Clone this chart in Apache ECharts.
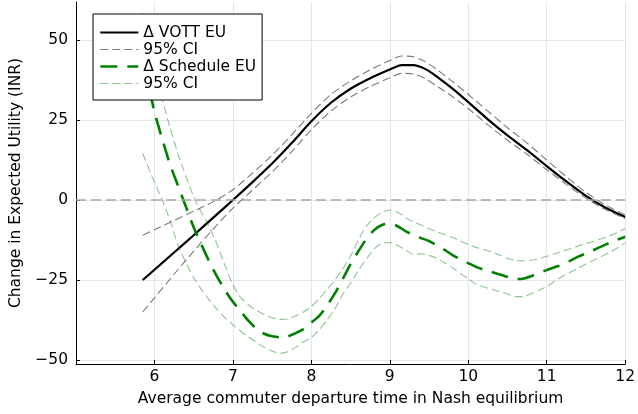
<!DOCTYPE html>
<html>
<head>
<meta charset="utf-8">
<script src="https://cdn.jsdelivr.net/npm/echarts@6/dist/echarts.min.js"></script>
<style>html,body{margin:0;padding:0;background:#fff}#c{width:638px;height:414px}</style>
</head>
<body>
<div id="c"></div>
<script>
// ---- data ----
var xTicks = [6, 7, 8, 9, 10, 11, 12];
var yTicks = [-50, -25, 0, 25, 50];

var xV = [5.85, 6.0, 6.25, 6.5, 6.75, 7.0, 7.25, 7.5, 7.75, 8.0, 8.25, 8.5, 8.75, 9.0, 9.15, 9.3, 9.45, 9.6, 9.8, 10.0, 10.25, 10.5, 10.75, 11.0, 11.25, 11.5, 11.75, 12.0];
var vott   = [-25, -21.8, -16.4, -11, -5.5, 0, 5.6, 11.4, 17.8, 24.6, 30.4, 34.8, 38.1, 40.8, 42.2, 42.2, 41, 38.6, 34.8, 30.6, 25.2, 20.2, 15.6, 10.6, 5.8, 1.3, -2.4, -5.3];
var vottHi = [-11, -9.3, -6.4, -3.5, -0.5, 3.2, 8.4, 14, 20.4, 27.1, 33, 37.2, 40.7, 43.6, 45, 44.8, 43.3, 40.8, 37, 33, 27.8, 22.6, 17.8, 12.5, 7.3, 2.4, -1.6, -4.7];
var vottLo = [-35, -30.6, -23.2, -16, -9, -2.5, 3.1, 8.8, 15.1, 22, 27.8, 32.2, 35.5, 38.2, 39.6, 39.4, 38, 35.6, 32.3, 28.6, 23.5, 18.7, 14.3, 9.5, 4.9, 0.6, -3, -5.8];

var xG = [5.85, 5.95, 6.0, 6.1, 6.2, 6.3, 6.4, 6.5, 6.6, 6.7, 6.8, 6.9, 7.0, 7.1, 7.2, 7.3, 7.4, 7.5, 7.6, 7.7, 7.8, 7.9, 8.0, 8.1, 8.2, 8.3, 8.4, 8.5, 8.6, 8.7, 8.8, 8.9, 9.0, 9.1, 9.2, 9.3, 9.4, 9.5, 9.6, 9.7, 9.8, 9.9, 10.0, 10.1, 10.2, 10.3, 10.4, 10.5, 10.6, 10.7, 10.8, 10.9, 11.0, 11.1, 11.2, 11.3, 11.4, 11.5, 11.6, 11.7, 11.8, 11.9, 12.0];
var sched = [42, 33, 27.5, 19, 11, 4.5, -2, -8.5, -14, -19.3, -24, -28.2, -31.8, -34.8, -37.8, -40.2, -41.8, -42.6, -42.9, -42.6, -41.6, -40.3, -38.3, -36.2, -33, -29.2, -24.7, -20, -16, -12.2, -9.4, -7.8, -7.3, -8.2, -9.7, -10.9, -11.9, -12.8, -14.2, -15.6, -17.2, -18.5, -19.7, -20.9, -21.8, -22.5, -23.3, -24.0, -24.7, -24.6, -23.8, -22.8, -21.9, -21.0, -20.2, -19.0, -17.7, -16.7, -15.6, -14.5, -13.4, -12.4, -11.5];
var schedHi = [58.5, 46, 40.5, 31.3, 22.5, 14.5, 7.5, 1, -4, -8.5, -14, -20.5, -26.5, -30.5, -32.8, -34.5, -35.8, -36.8, -37.3, -37.2, -36.2, -35, -33.3, -30.8, -28, -25, -21.5, -17.5, -12.5, -8.2, -5.6, -3.8, -3.1, -3.8, -5.5, -6.8, -7.9, -9.0, -9.9, -10.8, -11.7, -12.8, -13.9, -14.8, -15.5, -16.2, -17.2, -18.2, -18.9, -19.0, -18.8, -18.3, -17.6, -16.8, -16.0, -15.2, -14.4, -13.6, -12.9, -12.1, -11.2, -10.2, -8.9];
var schedLo = [14.6, 8.5, 5.5, 0, -6.5, -14, -19.5, -24.2, -28, -31.3, -34.2, -36.8, -39, -41, -42.8, -44.5, -46, -47.2, -47.9, -47.4, -46, -44.3, -43, -40.5, -37.5, -34, -29.5, -26, -22, -18.5, -15.3, -13.5, -13.3, -14.2, -15.6, -17.0, -16.8, -17.3, -18.2, -19.6, -21.2, -23.0, -24.6, -26.3, -27.2, -27.9, -28.6, -29.4, -30.2, -30.2, -29.3, -28.2, -27.0, -25.4, -23.9, -22.6, -21.3, -20.0, -18.8, -17.6, -16.4, -15.0, -13.4];

var labelVott = '\u0394 VOTT EU';
var labelCI1 = '95% CI';
var labelSched = '\u0394 Schedule EU';
var labelCI2 = '95% CI ';

function pairs(xs, ys) { return xs.map(function (x, i) { return [x, ys[i]]; }); }

var FONT = 'DejaVu Sans';
var FS = 15.5;
var grayC = '#7a7a7a';
var lgreen = 'rgba(0,128,0,0.45)';

function line(name, xs, ys, color, width, dash) {
  return {
    type: 'line', name: name, data: pairs(xs, ys), showSymbol: false, symbol: 'none',
    smooth: 0.25, z: 2,
    lineStyle: { color: color, width: width, type: dash, cap: 'butt' },
    itemStyle: { color: color },
    emphasis: { disabled: true }, animation: false
  };
}

var chart = echarts.init(document.getElementById('c'), null, { renderer: 'canvas' });
chart.setOption({
  animation: false,
  backgroundColor: '#fff',
  textStyle: { fontFamily: FONT },
  grid: { left: 76, right: 10, top: 2, bottom: 50, containLabel: false },
  xAxis: {
    type: 'value', min: 5, max: 12, interval: 1,
    name: 'Average commuter departure time in Nash equilibrium',
    nameLocation: 'middle', nameGap: 27,
    nameTextStyle: { fontFamily: FONT, fontSize: FS, color: '#000' },
    axisLine: { show: true, onZero: false, lineStyle: { color: '#000', width: 1 } },
    axisTick: { show: true, inside: true, length: 4, customValues: xTicks, lineStyle: { color: '#000' } },
    axisLabel: { customValues: xTicks, margin: 5, fontFamily: FONT, fontSize: FS, color: '#000' },
    splitLine: { show: true, lineStyle: { color: '#e6e6e6', width: 1 } }
  },
  yAxis: {
    type: 'value', min: -51.25, max: 61.9,
    name: 'Change in Expected Utility (INR)',
    nameLocation: 'middle', nameGap: 50,
    nameTextStyle: { fontFamily: FONT, fontSize: FS, color: '#000' },
    axisLine: { show: true, onZero: false, lineStyle: { color: '#000', width: 1 } },
    axisTick: { show: true, inside: true, length: 4, customValues: yTicks, lineStyle: { color: '#000' } },
    axisLabel: {
      customValues: yTicks, margin: 8, fontFamily: FONT, fontSize: FS, color: '#000',
      formatter: function (v) { return v < 0 ? '\u2212' + (-v) : String(v); }
    },
    splitLine: { show: true, lineStyle: { color: '#e6e6e6', width: 1 } }
  },
  legend: {
    data: [labelVott, labelCI1, labelSched, labelCI2],
    orient: 'vertical', left: 93, top: 14, z: 10,
    padding: [10, 6, 8, 6],
    itemWidth: 38, itemHeight: 14, itemGap: 0,
    backgroundColor: '#fff', borderColor: '#000', borderWidth: 1, borderRadius: 0,
    textStyle: { fontFamily: FONT, fontSize: FS, color: '#000', lineHeight: 17 },
    lineStyle: { width: 'inherit' },
    itemStyle: { color: 'rgba(0,0,0,0)', borderColor: 'rgba(0,0,0,0)', borderWidth: 0, opacity: 0 },
    selectedMode: false
  },
  series: [
    {
      type: 'line', name: 'zero', data: [], silent: true, z: 1,
      markLine: {
        symbol: 'none', silent: true, label: { show: false },
        lineStyle: { color: '#a6a6a6', width: 1.6, type: [10, 5] },
        data: [{ yAxis: 0 }], animation: false
      }
    },
    line(labelVott, xV, vott, '#000', 2.2, 'solid'),
    line(labelCI1, xV, vottHi, grayC, 1.1, [8, 4]),
    line('ci1lo', xV, vottLo, grayC, 1.1, [8, 4]),
    line(labelSched, xG, sched, '#008000', 2.6, [17, 10]),
    line(labelCI2, xG, schedHi, lgreen, 1.1, [8, 4]),
    line('ci2lo', xG, schedLo, lgreen, 1.1, [8, 4])
  ]
});
</script>
</body>
</html>
